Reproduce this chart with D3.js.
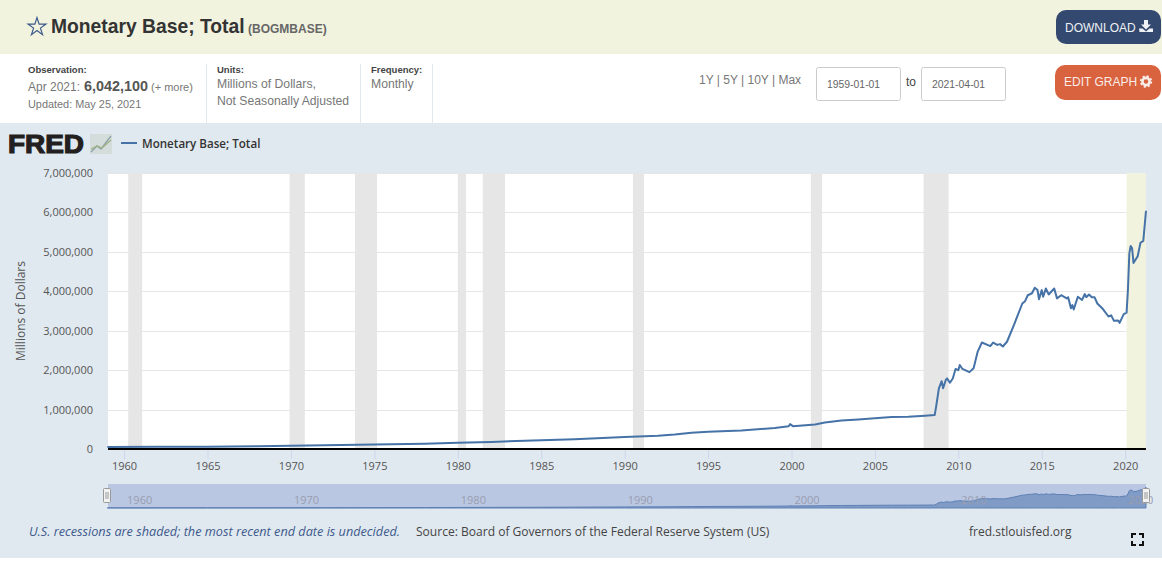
<!DOCTYPE html>
<meta charset="utf-8">
<style>
  html, body { margin: 0; padding: 0; background: #fff; overflow: hidden; }
  svg { display: block; }
  .top { font-family: "Liberation Sans", Arial, sans-serif; }
  .chart { font-family: "Open Sans", sans-serif; }
</style>

<!-- Load d3.js -->
<script src="https://d3js.org/d3.v7.min.js"></script>

<div id="my_dataviz"></div>

<script>

// observation dates and values (millions of dollars)
var dates = ["1959-01","1962-01","1965-01","1968-01","1970-01","1972-01","1975-01","1978-01","1980-01","1982-01","1985-01","1987-01","1990-01","1992-01","1993-01","1994-01","1995-01","1997-01","1999-01","1999-11","1999-12","2000-02","2001-06","2002-01","2003-01","2004-01","2005-01","2006-01","2007-01","2008-01",
  "2008-08","2008-09","2008-11","2009-01","2009-02","2009-04","2009-05","2009-07","2009-09","2009-11","2010-01","2010-02","2010-04","2010-09","2010-12","2011-03","2011-06","2011-12","2012-02","2012-05","2012-07","2012-09","2012-12","2013-05","2013-11",
  "2014-01","2014-03","2014-06","2014-08","2014-10","2014-11","2015-01","2015-02","2015-04","2015-06","2015-10","2015-12","2016-03","2016-07","2016-08","2016-10","2016-11","2016-12","2017-03","2017-06","2017-08","2017-09","2017-11",
  "2018-01","2018-03","2018-05","2018-09","2019-01","2019-03","2019-05","2019-08","2019-09","2019-12","2020-02","2020-03","2020-04","2020-05","2020-06","2020-07","2020-10","2020-12","2021-02","2021-04"];
var values = [50000,54000,60000,70000,80000,92000,112000,135000,160000,180000,220000,250000,305000,335000,365000,410000,440000,470000,530000,575000,630000,580000,620000,670000,720000,750000,780000,810000,820000,845000,
  860000,1070000,1540000,1720000,1540000,1750000,1790000,1680000,1790000,2030000,2000000,2130000,2030000,1950000,2050000,2470000,2700000,2610000,2700000,2640000,2660000,2600000,2720000,3140000,3690000,
  3750000,3900000,3950000,4090000,4030000,3800000,4030000,3860000,4070000,3920000,4070000,3820000,3900000,3820000,3850000,3570000,3650000,3540000,3860000,3780000,3930000,3850000,3920000,
  3850000,3850000,3690000,3550000,3360000,3390000,3250000,3260000,3200000,3420000,3460000,4030000,4960000,5150000,5090000,4720000,4890000,5230000,5280000,6042100];

var recessionStart = ["1960-04","1969-12","1973-11","1980-01","1981-07","1990-07","2001-03","2007-12"];
var recessionEnd   = ["1961-02","1970-11","1975-03","1980-07","1982-11","1991-03","2001-11","2009-06"];
var undecidedStart = "2020-02";
var undecidedEnd   = "2021-04";

var yTicks = [0,1000000,2000000,3000000,4000000,5000000,6000000,7000000];
var xTickYears = [1960,1965,1970,1975,1980,1985,1990,1995,2000,2005,2010,2015,2020];
var navTickYears = [1960,1970,1980,1990,2000,2010,2020];

var parseMonth = d3.timeParse("%Y-%m");
var series = dates.map(function(d, i) { return {date: parseMonth(d), value: values[i]}; });

var svg = d3.select("#my_dataviz")
  .append("svg")
    .attr("width", 1162)
    .attr("height", 567);

// page bands
function band(y, h, color) {
  svg.append("rect").attr("x", 0).attr("y", y).attr("width", 1162).attr("height", h).attr("fill", color);
}
band(0, 54, "#f2f3df");
band(123, 435, "#e1e9f0");

// small helper for all the text on the page
function label(parent, x, y, str, size, color, cls, opts) {
  opts = opts || {};
  return parent.append("text")
    .attr("class", cls)
    .attr("x", x).attr("y", y)
    .attr("font-size", size)
    .attr("fill", color)
    .attr("font-weight", opts.weight || "normal")
    .attr("font-style", opts.style || "normal")
    .attr("text-anchor", opts.anchor || "start")
    .text(str);
}

// header
svg.append("path")
  .attr("d", d3.symbol(d3.symbolStar, 100))
  .attr("transform", "translate(37,27)")
  .attr("fill", "none")
  .attr("stroke", "#3d5a8c")
  .attr("stroke-width", 1.2);
label(svg, 51, 33, "Monetary Base; Total", 19.3, "#333", "top", {weight: "bold"});
label(svg, 248, 33, "(BOGMBASE)", 12, "#666", "top", {weight: "bold"});

// buttons
svg.append("rect").attr("x", 1056).attr("y", 10).attr("width", 105).attr("height", 34).attr("rx", 10).attr("fill", "#34496f");
label(svg, 1065, 32, "DOWNLOAD", 12, "#eef1f6", "top");
svg.append("path")
  .attr("d", "M1144 20h4v4.500h3l-5 5-5-5h3zM1139 28.500h3.500l3.500 3 3.500-3h3.500v3.500h-13.500z")
  .attr("fill", "#eef1f6");

svg.append("rect").attr("x", 1055).attr("y", 65).attr("width", 106).attr("height", 35).attr("rx", 10).attr("fill", "#d9623f");
label(svg, 1064, 86, "EDIT GRAPH", 12, "#f8ede8", "top");
svg.append("circle").attr("cx", 1146).attr("cy", 81.500).attr("r", 3.600)
  .attr("fill", "none").attr("stroke", "#f8ede8").attr("stroke-width", 2.600);
svg.append("circle").attr("cx", 1146).attr("cy", 81.500).attr("r", 5.300)
  .attr("fill", "none").attr("stroke", "#f8ede8").attr("stroke-width", 1.800).attr("stroke-dasharray", "2.100 2.060");

// observation block
label(svg, 28, 73, "Observation:", 9.500, "#444", "top", {weight: "bold"});
label(svg, 28, 91, "Apr 2021:", 12, "#777", "top");
label(svg, 84, 91, "6,042,100", 14.400, "#555", "top", {weight: "bold"});
label(svg, 151, 91, "(+ more)", 11, "#777", "top");
label(svg, 28, 108, "Updated: May 25, 2021", 10.900, "#777", "top");
label(svg, 217, 73, "Units:", 9.500, "#444", "top", {weight: "bold"});
label(svg, 217, 88, "Millions of Dollars,", 12.200, "#777", "top");
label(svg, 217, 105, "Not Seasonally Adjusted", 12.200, "#777", "top");
label(svg, 371, 73, "Frequency:", 9.500, "#444", "top", {weight: "bold"});
label(svg, 371, 88, "Monthly", 12.200, "#777", "top");
[206, 360, 432].forEach(function(x) {
  svg.append("line").attr("x1", x + 0.5).attr("x2", x + 0.5).attr("y1", 64).attr("y2", 123).attr("stroke", "#e1e9f0");
});

// range links and date boxes
label(svg, 699, 84, "1Y | 5Y | 10Y | Max", 12, "#777", "top");
[[816, "1959-01-01"], [921, "2021-04-01"]].forEach(function(b) {
  svg.append("rect").attr("x", b[0] + 0.5).attr("y", 67.500).attr("width", 84).attr("height", 33).attr("rx", 2)
    .attr("fill", "#fff").attr("stroke", "#ccc");
  label(svg, b[0] + 11, 88, b[1], 10.400, "#666", "top");
});
label(svg, 906, 86, "to", 12, "#444", "top");

// FRED logo
label(svg, 8, 153, "FRED", 26, "#231f20", "top", {weight: "bold"})
  .attr("stroke", "#231f20").attr("stroke-width", 1.2)
  .attr("textLength", 76).attr("lengthAdjust", "spacingAndGlyphs");
svg.append("rect").attr("x", 90).attr("y", 134).attr("width", 22).attr("height", 20).attr("fill", "#d5dcdc");
svg.append("path").attr("d", "M91 152l6-6 4 3 10-13").attr("fill", "none").attr("stroke", "#8fa6a8").attr("stroke-width", 1.400);
svg.append("path").attr("d", "M91 149l6-3 5 2 9-8").attr("fill", "none").attr("stroke", "#a0b383").attr("stroke-width", 1.200);

// legend
svg.append("line").attr("x1", 121).attr("x2", 137).attr("y1", 143).attr("y2", 143).attr("stroke", "#4572a7").attr("stroke-width", 2);
label(svg, 142, 148, "Monetary Base; Total", 11.600, "#333", "chart", {weight: 600});

// set the dimensions of the graph
var margin = {top: 173, left: 108, right: 16, bottom: 118},
    width = 1162 - margin.left - margin.right,
    height = 567 - margin.top - margin.bottom;

// the time scale starts a hair left of the plot edge, as in the reference
var x = d3.scaleTime()
  .domain([parseMonth("1959-01"), parseMonth("2021-04")])
  .range([-0.6, width]);
var y = d3.scaleLinear()
  .domain([0, 7000000])
  .range([height, 0]);

var g = svg.append("g")
  .attr("class", "chart")
  .attr("transform", "translate(" + margin.left + "," + margin.top + ")");

g.append("rect").attr("width", width).attr("height", height).attr("fill", "#fff");

// grid lines
g.selectAll(".grid").data(yTicks).enter().append("line")
  .attr("x1", 0).attr("x2", width)
  .attr("y1", function(d) { return Math.round(y(d)) + 0.5; })
  .attr("y2", function(d) { return Math.round(y(d)) + 0.5; })
  .attr("stroke", "#e6e6e6");

// recession shading
g.selectAll(".recession").data(recessionStart).enter().append("rect")
  .attr("x", function(d) { return x(parseMonth(d)); })
  .attr("width", function(d, i) { return x(parseMonth(recessionEnd[i])) - x(parseMonth(d)); })
  .attr("height", height)
  .attr("fill", "#e6e6e6");
g.append("rect")
  .attr("x", x(parseMonth(undecidedStart)))
  .attr("width", x(parseMonth(undecidedEnd)) - x(parseMonth(undecidedStart)))
  .attr("height", height)
  .attr("fill", "#f2f3df");

// the series
var line = d3.line()
  .x(function(d) { return x(d.date); })
  .y(function(d) { return y(d.value); });
g.append("path").datum(series)
  .attr("d", line)
  .attr("fill", "none")
  .attr("stroke", "#4572a7")
  .attr("stroke-width", 2)
  .attr("stroke-linejoin", "round");

// Y axis
var yAxis = d3.axisLeft(y).tickValues(yTicks).tickSize(0).tickPadding(15).tickFormat(d3.format(","));
var yG = g.append("g").call(yAxis);
yG.select(".domain").remove();
yG.selectAll("text").attr("font-family", "Open Sans").attr("font-size", 11).attr("fill", "#555");

// X axis
var xAxis = d3.axisBottom(x)
  .tickValues(xTickYears.map(function(d) { return new Date(d, 0, 1); }))
  .tickSize(10).tickPadding(3).tickFormat(d3.timeFormat("%Y"));
var xG = g.append("g").attr("transform", "translate(0," + height + ")").call(xAxis);
xG.select(".domain").remove();
xG.selectAll("line").attr("stroke", "#ccd6eb");
xG.selectAll("text").attr("font-family", "Open Sans").attr("font-size", 11).attr("fill", "#555");
g.append("line").attr("x1", 0).attr("x2", width).attr("y1", height).attr("y2", height)
  .attr("stroke", "#000").attr("stroke-width", 2);

label(svg, 0, 0, "Millions of Dollars", 12, "#555", "chart", {anchor: "middle"})
  .attr("transform", "translate(25,311) rotate(-90)");

// navigator
var navY = d3.scaleLinear().domain([0, 6042100]).range([24, 3]);
var nav = svg.append("g").attr("class", "chart").attr("transform", "translate(" + margin.left + ",484)");
nav.append("rect").attr("width", width).attr("height", 24).attr("fill", "#b9c7e2");
nav.append("path").datum(series)
  .attr("d", d3.area()
    .x(function(d) { return x(d.date); })
    .y0(24)
    .y1(function(d) { return navY(d.value); }))
  .attr("fill", "#7f9bc6")
  .attr("stroke", "#5f80b4");
nav.selectAll(".navTick").data(navTickYears).enter().append("text")
  .attr("x", function(d) { return x(new Date(d, 0, 1)) + 3; })
  .attr("y", 20)
  .attr("font-size", 11)
  .attr("fill", "#999db0")
  .text(function(d) { return d; });

// navigator handles
[-1, width].forEach(function(hx) {
  var h = nav.append("g").attr("transform", "translate(" + hx + ",4)");
  h.append("rect").attr("x", -3.5).attr("y", 0.5).attr("width", 7).attr("height", 14).attr("rx", 1)
    .attr("fill", "#f2f2f2").attr("stroke", "#999");
  [-1, 1].forEach(function(dx) {
    h.append("line").attr("x1", dx).attr("x2", dx).attr("y1", 4).attr("y2", 11).attr("stroke", "#999");
  });
});

// footer
label(svg, 29, 536, "U.S. recessions are shaded; the most recent end date is undecided.", 12.700, "#3d5a8c", "chart", {style: "italic"});
label(svg, 416, 536, "Source: Board of Governors of the Federal Reserve System (US)", 12.050, "#444", "chart");
label(svg, 969, 536, "fred.stlouisfed.org", 12, "#444", "chart");

// fullscreen icon
svg.append("path")
  .attr("d", "M1132 538v-4h4M1139 534h4v4M1143 541v4h-4M1136 545h-4v-4")
  .attr("fill", "none").attr("stroke", "#111").attr("stroke-width", 2);

</script>
